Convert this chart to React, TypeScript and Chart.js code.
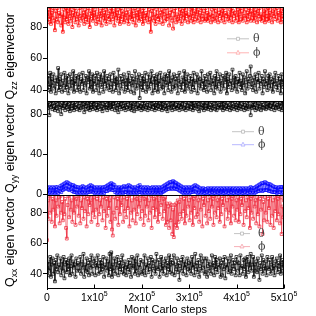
import React, { useEffect, useRef } from "react";
import { Chart, registerables } from "chart.js";
Chart.register(...registerables);

const X_MAX = 500000;
const X_TICKS = [0, 1, 2, 3, 4, 5]; // multiples of 1e5
const Y_TICKS_ZZ = [40, 60, 80];
const Y_TICKS_YY = [0, 20, 40, 60, 80];
const Y_TICKS_XX = [40, 60, 80];

const ZZ_THETA = [
  45,40,49,42,51,39,47,43,50,41,46,38,48,44,54,40,47,42,50,39,
  46,43,51,40,48,42,49,38,45,50,41,47,43,52,39,46,44,49,40,48,
  42,50,39,47,44,51,40,46,43,49,38,48,45,52,41,47,42,50,39,46,
  44,49,40,51,43,47,38,50,45,42,48,39,52,44,46,41,49,43,47,40,
  50,42,46,39,51,44,48,40,47,43,53,38,45,49,41,47,44,50,39,46,
  42,48,40,51,44,46,39,49,43,47,38,52,45,41,48,43,50,35,46,42,
  49,40,47,44,51,39,46,42,50,41,48,44,52,38,45,49,40,47,43,50,
  39,46,44,51,41,48,42,47,38,50,45,43,49,40,52,44,46,39,48,42,
  50,41,47,43,49,38,46,51,42,45,40,48,44,52,39,47,43,50,41,46,
  44,49,39,47,42,51,40,46,45,50,38,48,43,47,41,52,44,46,40,49,
  42,47,39,50,45,43,51,40,48,44,46,38,49,42,52,41,47,44,50,39,
  46,43,49,41,48,45,51,38,47,42,50,44,46,40,53,43,48,41,49,45,
  39,47,44,51,42,46,40,50,43,48,38,45,52,41,47,44,49,55,42,46,
  40,48,43,50,39,47,45,51,41,46,44,49,38,47,42,52,44,46,40,49,
  43,50,41,47,45,39,48,44,51,42,46,40,49,43,47,38,50,45,42,46,
];
const ZZ_PHI = [
  88,83,91,85,93,82,89,86,92,84,78,90,85,92,83,89,87,93,81,88,
  77,91,86,83,92,85,90,82,93,87,84,91,80,89,86,92,83,90,85,88,
  81,92,87,84,93,86,89,82,91,85,88,83,92,86,80,90,87,93,84,89,
  86,91,82,88,85,93,83,90,87,81,92,86,89,84,91,82,93,87,85,90,
  83,92,88,85,90,81,93,86,89,84,91,87,82,92,85,90,88,83,93,86,
  89,84,91,82,88,86,93,85,90,83,87,92,81,89,86,91,84,88,93,85,
  90,82,92,87,84,89,86,93,83,91,85,77,90,86,92,84,88,82,91,87,
  85,93,83,89,86,91,82,90,88,84,92,85,87,93,81,89,86,91,84,79,
  90,86,92,83,88,85,93,84,91,87,82,90,86,92,84,89,87,93,83,88,
  86,91,84,92,87,83,90,85,93,88,84,91,86,89,83,92,87,85,90,84,
  92,85,89,84,93,86,88,83,91,87,85,92,84,90,86,93,83,89,87,91,
  84,90,86,92,83,89,87,93,85,88,84,91,86,92,83,90,87,89,84,93,
  86,91,83,88,92,85,90,84,93,87,86,91,83,89,85,92,88,84,90,86,
  93,84,89,86,91,83,90,87,92,85,88,84,93,86,90,83,91,87,85,92,
  84,89,86,93,83,90,87,91,85,88,92,84,89,86,93,83,90,87,85,91,
];
const YY_THETA = [
  89,86,92,79,90,87,93,85,91,88,84,92,86,90,83,93,87,89,80,91,
  86,93,88,84,91,87,92,85,90,83,93,88,86,91,84,92,87,89,85,93,
  88,84,91,86,93,87,90,82,92,88,85,91,86,93,84,89,87,92,85,90,
  93,86,89,84,92,87,91,85,93,88,83,90,86,92,87,89,84,93,86,91,
  87,92,85,90,88,93,84,91,86,89,82,92,87,90,85,93,88,86,91,84,
  92,87,89,85,93,86,91,84,90,88,83,92,87,93,85,89,86,91,88,84,
  90,86,93,85,91,87,89,84,92,86,88,93,85,90,87,91,84,89,86,92,
  88,85,91,87,93,84,90,86,92,88,85,91,83,89,87,93,86,90,84,91,
  87,93,85,89,86,92,88,84,91,87,90,85,93,86,89,84,92,88,86,91,
  85,90,87,93,84,91,86,89,88,92,85,90,83,93,87,89,86,91,84,92,
  88,86,91,85,93,87,89,84,92,86,90,88,85,93,84,91,87,89,86,92,
  87,93,84,90,86,92,88,85,91,87,89,84,93,86,90,88,85,92,87,89,
  84,91,86,93,88,85,90,87,92,84,89,86,91,85,93,87,88,79,90,86,
  92,87,89,84,93,86,91,85,90,88,84,92,87,89,86,93,85,90,87,91,
  86,92,88,85,91,87,93,84,90,86,89,87,92,85,91,88,84,93,86,90,
];
const YY_PHI = [
  2,6,1,7,2,6,1,7,2,6,1,7,2,7,1,6,3,8,2,9,
  4,10,5,11,6,12,5,11,4,10,5,9,3,9,2,8,2,7,1,7,
  2,6,1,7,2,8,1,7,2,6,1,7,2,8,2,9,3,8,2,7,
  1,6,2,7,1,6,2,7,1,6,2,7,1,7,3,8,3,9,4,10,
  5,11,4,10,4,9,2,7,1,6,2,7,1,6,2,7,1,8,2,7,
  2,8,1,9,2,8,1,7,2,6,1,7,2,6,1,8,2,9,2,7,
  1,6,2,7,1,6,2,7,1,6,2,6,1,7,2,6,1,7,2,6,
  1,7,2,6,1,7,2,8,3,9,4,10,5,11,5,12,6,12,5,13,
  6,12,5,11,5,10,4,9,3,8,2,7,1,6,2,7,1,6,2,7,
  1,6,2,7,2,8,3,9,2,8,1,7,2,6,1,5,2,6,1,5,
  1,5,2,6,1,5,1,6,2,5,1,6,1,5,2,6,1,5,1,6,
  2,5,1,6,1,5,2,6,1,5,1,6,2,5,1,6,1,5,2,6,
  1,5,1,6,2,5,1,6,1,5,2,6,1,5,1,6,2,7,1,6,
  2,6,1,7,2,8,3,9,3,10,4,11,3,11,4,12,4,11,4,10,
  3,10,3,9,2,8,2,7,2,7,1,6,2,7,2,7,1,7,2,7,
];
const XX_THETA = [
  44,39,48,42,51,38,46,50,40,47,35,49,43,52,41,46,44,50,39,48,
  42,51,37,46,49,41,47,43,50,39,45,52,40,48,44,46,38,50,42,47,
  46,42,51,40,48,44,53,38,46,42,50,41,47,39,49,44,52,40,45,48,
  50,39,47,44,52,40,45,49,41,47,43,51,38,46,44,50,42,48,39,53,
  43,54,38,46,42,50,40,48,44,51,39,47,43,49,41,52,45,40,48,44,
  39,46,43,49,41,47,38,51,44,45,50,40,48,42,52,39,46,44,49,41,
  40,48,42,52,39,46,44,50,41,47,43,51,38,49,45,42,48,40,53,44,
  43,49,38,46,51,42,45,40,48,44,50,39,47,43,52,41,46,49,40,47,
  52,39,46,43,50,41,47,36,45,49,42,51,40,48,44,46,39,50,43,47,
  42,48,40,51,44,46,39,53,43,47,41,49,38,45,52,42,48,44,50,40,
  41,50,38,45,48,42,46,40,52,44,47,39,51,43,49,41,46,44,50,38,
  47,39,49,43,51,37,46,44,50,41,48,42,52,40,45,49,43,47,39,51,
  48,42,47,39,52,44,45,40,49,43,50,38,46,51,41,48,44,53,42,46,
  51,38,46,42,48,41,50,44,36,47,43,52,40,49,45,42,48,39,51,44,
  43,49,40,46,51,42,45,39,48,44,50,41,47,43,52,40,46,49,42,45,
];
const XX_PHI = [
  62,88,76,91,80,93,74,89,82,92,71,88,78,93,84,90,73,91,80,87,
  75,92,79,89,70,63,85,91,77,93,82,88,74,92,80,90,72,89,84,93,
  78,91,73,88,83,92,76,90,81,93,71,89,79,91,85,88,74,92,80,90,
  77,93,82,89,72,91,79,88,84,92,75,90,81,93,70,89,78,91,83,88,
  74,92,69,65,80,90,76,93,83,89,72,91,79,88,85,92,74,90,81,93,
  77,89,83,91,71,92,80,88,75,93,82,90,73,89,79,92,84,88,76,91,
  81,93,72,89,78,90,84,92,75,88,80,91,70,93,83,89,77,90,82,92,
  74,88,79,91,85,93,76,89,81,90,72,86,74,84,70,86,75,85,66,82,
  64,85,72,86,70,88,74,87,79,90,76,92,81,89,73,91,78,93,84,88,
  75,90,80,92,72,89,83,91,77,93,79,88,74,90,82,92,71,89,85,91,
  78,93,73,88,81,90,76,92,84,89,72,91,80,93,77,88,83,90,74,92,
  79,89,85,91,71,93,82,88,76,90,80,92,73,89,84,91,78,93,75,88,
  82,90,74,92,79,89,85,91,72,93,81,88,77,90,83,92,70,89,80,91,
  76,93,84,88,73,90,79,92,71,89,82,91,66,87,75,90,80,92,74,89,
  83,91,72,93,78,88,70,90,81,92,75,89,79,91,73,90,66,84,77,88,
];

const STEPS = ZZ_THETA.map((_, i) => (i * X_MAX) / (ZZ_THETA.length - 1));
const pts = (arr: number[]) => arr.map((y, i) => ({ x: STEPS[i], y }));

const SANS = "'Liberation Sans', Arial, sans-serif";
const SERIF = "'DejaVu Serif', 'Liberation Serif', serif";

function series(label: string, data: number[], color: string, axis: string) {
  return {
    label,
    data: pts(data),
    yAxisID: axis,
    borderColor: color,
    borderWidth: 0.6,
    pointStyle: "rect",
    pointRadius: 2,
    pointBorderWidth: 0.7,
    pointBorderColor: color,
    pointBackgroundColor: "rgba(0,0,0,0)",
    tension: 0,
  };
}

function yScale(min: number, max: number, ticks: number[]) {
  return {
    type: "linear",
    position: "left",
    stack: "panels",
    stackWeight: 1,
    min,
    max,
    afterFit: (s: any) => {
      s.width = 47;
    },
    afterBuildTicks: (s: any) => {
      s.ticks = ticks.map((v) => ({ value: v }));
    },
    ticks: { color: "#000", font: { family: SANS, size: 10.5 }, padding: 1 },
    grid: { drawOnChartArea: false, tickLength: 4, color: "#000", tickWidth: 1 },
    border: { color: "#000", width: 1 },
  };
}

function drawRotTitle(ctx: any, x: number, yc: number, sub: string, rest: string) {
  const big = `12.5px ${SANS}`;
  const small = `8.5px ${SANS}`;
  ctx.save();
  ctx.font = big;
  const wQ = ctx.measureText("Q").width;
  const wR = ctx.measureText(rest).width;
  ctx.font = small;
  const wS = ctx.measureText(sub).width;
  const total = wQ + wS + wR;
  ctx.translate(x, yc);
  ctx.rotate(-Math.PI / 2);
  ctx.fillStyle = "#000";
  ctx.textBaseline = "alphabetic";
  ctx.textAlign = "left";
  let p = -total / 2;
  ctx.font = big;
  ctx.fillText("Q", p, 0);
  p += wQ;
  ctx.font = small;
  ctx.fillText(sub, p, 3);
  p += wS;
  ctx.font = big;
  ctx.fillText(rest, p, 0);
  ctx.restore();
}

function legendEntry(
  ctx: any, x0: number, x1: number, y: number, color: string,
  marker: string, tx: number, text: string
) {
  ctx.save();
  ctx.strokeStyle = color;
  ctx.lineWidth = 1;
  ctx.beginPath();
  ctx.moveTo(x0, y + 0.5);
  ctx.lineTo(x1, y + 0.5);
  ctx.stroke();
  const mx = (x0 + x1) / 2;
  ctx.fillStyle = "#fff";
  ctx.beginPath();
  if (marker === "rect") {
    ctx.rect(mx - 1.5, y - 1, 3, 3);
  } else {
    ctx.moveTo(mx, y - 2);
    ctx.lineTo(mx + 2, y + 1.8);
    ctx.lineTo(mx - 2, y + 1.8);
    ctx.closePath();
  }
  ctx.fill();
  ctx.stroke();
  ctx.fillStyle = "#444";
  ctx.font = `11px ${SERIF}`;
  ctx.textBaseline = "middle";
  ctx.textAlign = "left";
  ctx.fillText(text, tx, y + 1);
  ctx.restore();
}

const decorPlugin = {
  id: "decor",
  beforeDatasetDraw(chart: any, args: any) {
    const ds = chart.data.datasets[args.index];
    const sc = chart.scales[ds.yAxisID];
    const ca = chart.chartArea;
    const ctx = chart.ctx;
    ctx.save();
    ctx.beginPath();
    ctx.rect(ca.left, sc.top, ca.right - ca.left, sc.bottom - sc.top);
    ctx.clip();
  },
  afterDatasetDraw(chart: any) {
    chart.ctx.restore();
  },
  afterDraw(chart: any) {
    const ctx = chart.ctx;
    const ca = chart.chartArea;
    const xs = chart.scales.x;
    const zz = chart.scales.yZZ;
    const yy = chart.scales.yYY;
    const xx = chart.scales.yXX;
    ctx.save();
    ctx.strokeStyle = "#000";
    ctx.lineWidth = 1;
    const L = Math.round(ca.left) + 0.5;
    const R = Math.round(ca.right) - 0.5;
    const T = Math.round(ca.top) + 0.5;
    const B = Math.round(ca.bottom) - 0.5;
    ctx.strokeRect(L, T, R - L, B - T);
    [zz.bottom, yy.bottom].forEach((yv: number) => {
      const yl = Math.round(yv) + 0.5;
      ctx.beginPath();
      ctx.moveTo(L, yl);
      ctx.lineTo(R, yl);
      ctx.stroke();
    });
    ctx.fillStyle = "#000";
    ctx.textBaseline = "alphabetic";
    X_TICKS.forEach((t) => {
      const px = xs.getPixelForValue(t * 100000);
      const pr = Math.round(px) + 0.5;
      ctx.beginPath();
      ctx.moveTo(pr, B);
      ctx.lineTo(pr, B - 4);
      ctx.stroke();
      if (t === 0) {
        ctx.font = `10.5px ${SANS}`;
        ctx.textAlign = "center";
        ctx.fillText("0", px, 301);
      } else {
        const main = `${t}x10`;
        ctx.font = `10.5px ${SANS}`;
        const wm = ctx.measureText(main).width;
        ctx.font = `7px ${SANS}`;
        const ws = ctx.measureText("5").width;
        const start = px - (wm + ws) / 2;
        ctx.textAlign = "left";
        ctx.font = `10.5px ${SANS}`;
        ctx.fillText(main, start, 301);
        ctx.font = `7px ${SANS}`;
        ctx.fillText("5", start + wm, 296);
      }
    });
    ctx.font = `11px ${SANS}`;
    ctx.textAlign = "center";
    ctx.fillText("Mont Carlo steps", (ca.left + ca.right) / 2, 313);
    ctx.restore();

    drawRotTitle(ctx, 14, (zz.top + zz.bottom) / 2 + 2, "zz", " eigenvector");
    drawRotTitle(ctx, 14, (yy.top + yy.bottom) / 2, "yy", " eigen vector");
    drawRotTitle(ctx, 14, (xx.top + xx.bottom) / 2, "xx", " eigen vector");

    legendEntry(ctx, 227, 249, zz.top + 31, "#c4c4c4", "rect", 253, "θ");
    legendEntry(ctx, 227, 249, zz.top + 45, "#ffb4b4", "tri", 253, "ϕ");
    legendEntry(ctx, 232, 254, yy.top + 30, "#c4c4c4", "rect", 258, "θ");
    legendEntry(ctx, 232, 254, yy.top + 43, "#b8b8ff", "tri", 258, "ϕ");
    legendEntry(ctx, 234, 250, xx.top + 38, "#c4c4c4", "rect", 258, "θ");
    legendEntry(ctx, 234, 250, xx.top + 51, "#f7b0b8", "tri", 258, "ϕ");
  },
};

export default function App() {
  const ref = useRef<HTMLCanvasElement | null>(null);
  useEffect(() => {
    document.body.style.margin = "0";
    if (!ref.current) return;
    const chart = new Chart(ref.current, {
      type: "line",
      data: {
        datasets: [
          series("θ", ZZ_THETA, "#000000", "yZZ"),
          series("ϕ", ZZ_PHI, "#ff0000", "yZZ"),
          series("θ", YY_THETA, "#000000", "yYY"),
          series("ϕ", YY_PHI, "#0000ff", "yYY"),
          series("θ", XX_THETA, "#000000", "yXX"),
          series("ϕ", XX_PHI, "#ee2a3c", "yXX"),
        ] as any,
      },
      options: {
        animation: false,
        responsive: false,
        events: [],
        layout: { padding: { top: 5, right: 32, left: 0, bottom: 0 } },
        plugins: { legend: { display: false }, tooltip: { enabled: false } },
        scales: {
          x: {
            type: "linear",
            min: 0,
            max: X_MAX,
            afterFit: (s: any) => {
              s.height = 27;
            },
            ticks: { display: false },
            grid: { display: false },
            border: { display: false },
          },
          yXX: yScale(30, 91.5, Y_TICKS_XX),
          yYY: yScale(-1, 93, Y_TICKS_YY),
          yZZ: yScale(33, 92.5, Y_TICKS_ZZ),
        } as any,
      },
      plugins: [decorPlugin],
    });
    return () => chart.destroy();
  }, []);
  return <canvas ref={ref} width={316} height={316} style={{ display: "block" }} />;
}
